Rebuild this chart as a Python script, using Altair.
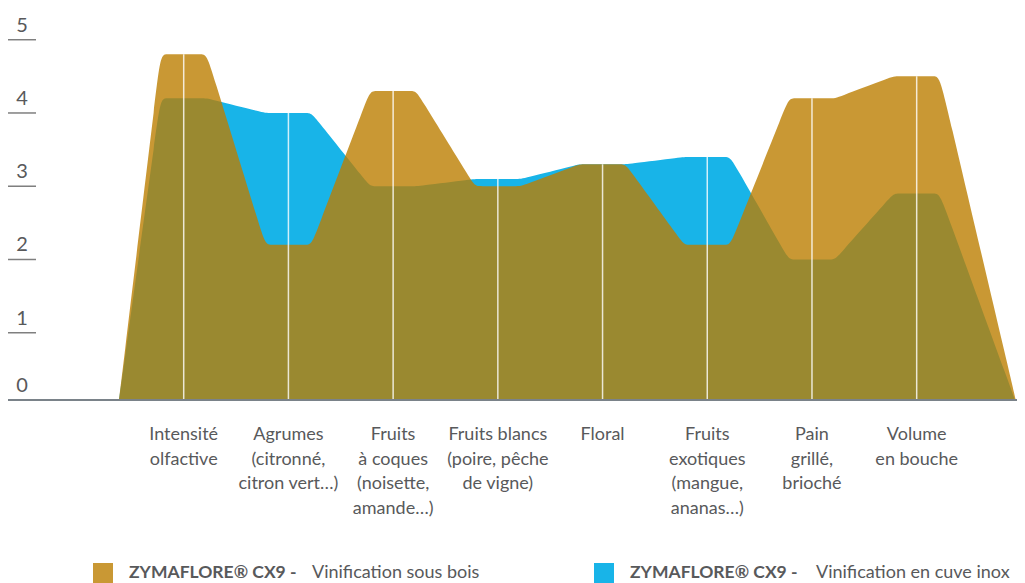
import altair as alt
import pandas as pd

# ---- data ----
categories = [
    "Intensité\nolfactive",
    "Agrumes\n(citronné,\ncitron vert…)",
    "Fruits\nà coques\n(noisette,\namande…)",
    "Fruits blancs\n(poire, pêche\nde vigne)",
    "Floral",
    "Fruits\nexotiques\n(mangue,\nananas…)",
    "Pain\ngrillé,\nbrioché",
    "Volume\nen bouche",
]
sous_bois = [4.8, 2.2, 4.3, 3.0, 3.3, 2.2, 4.2, 4.5]
cuve_inox = [4.2, 4.0, 3.0, 3.1, 3.3, 3.4, 2.0, 2.9]
y_ticks = [1, 2, 3, 4, 5]
series_names = ["sous bois", "cuve inox"]

# chart geometry
W, H = 1009, 392
BOTTOM = 183
X_START, X_END = -0.625, 7.96       # where the areas meet the zero line
PLATEAU = 0.22                      # half width of the flat top at each category
GOLD = "#BB7E01"
BLUE = "#18B4E8"
TEXT = "#58595B"
FONT = "Lato"

# ---- build the table the library needs ----
rows = []
for name, vals in zip(series_names, [sous_bois, cuve_inox]):
    pts = [(X_START, 0.0)]
    for i, v in enumerate(vals):
        pts += [(i - PLATEAU, v), (i + PLATEAU, v)]
    pts.append((X_END, 0.0))
    for (x, v) in pts:
        for _ in range(2):  # doubled control points -> polygon with rounded corners
            rows.append({"series": name, "x": x, "v": v})
area_df = pd.DataFrame(rows)

cat_df = pd.DataFrame({
    "i": list(range(len(categories))),
    "label": categories,
    "top": [max(a, b) for a, b in zip(sous_bois, cuve_inox)],
})
tick_df = pd.DataFrame({"t": y_ticks})

xscale = alt.Scale(domain=[-1.678, 7.958], nice=False, zero=False)
yscale = alt.Scale(domain=[0.082, 5.433], nice=False, zero=False)


def area(name, color, opacity):
    return alt.Chart(area_df).transform_filter(
        alt.datum.series == name
    ).mark_area(
        interpolate="basis", color=color, opacity=opacity, clip=True, orient="vertical"
    ).encode(
        x=alt.X("x:Q", scale=xscale, axis=None),
        y=alt.Y("v:Q", scale=yscale, axis=None, stack=None),
        y2=alt.value(H),
    )


blue_area = area("cuve inox", BLUE, 1.0)
gold_area = area("sous bois", GOLD, 0.8)

rules = alt.Chart(cat_df).mark_rule(color="white", strokeWidth=1.5, opacity=0.8).encode(
    x=alt.X("i:Q", scale=xscale, axis=None),
    y=alt.Y("top:Q", scale=yscale, axis=None),
    y2=alt.value(H),
)

baseline = alt.Chart(tick_df).mark_rule(color="#7A8289", strokeWidth=2).encode(
    x=alt.value(0), x2=alt.value(W), y=alt.value(H)
)

tick_lines = alt.Chart(tick_df).mark_rule(color="#7F7F7F", strokeWidth=1.5).encode(
    x=alt.value(0), x2=alt.value(28),
    y=alt.Y("t:Q", scale=yscale, axis=None),
)
tick_labels = alt.Chart(tick_df).mark_text(
    align="center", baseline="alphabetic", dy=-8, fontSize=20, font=FONT, color=TEXT
).encode(
    x=alt.value(14),
    y=alt.Y("t:Q", scale=yscale, axis=None),
    text=alt.Text("t:N"),
)
zero_label = alt.Chart(pd.DataFrame({"t": [0]})).mark_text(
    align="center", baseline="alphabetic", dy=-8, fontSize=20, font=FONT, color=TEXT
).encode(x=alt.value(14), y=alt.value(H), text=alt.Text("t:N"))

x_labels = alt.Chart(cat_df).mark_text(
    align="center", baseline="alphabetic", lineBreak="\n", lineHeight=24.5,
    fontSize=18, font=FONT, color=TEXT
).encode(
    x=alt.X("i:Q", scale=xscale, axis=None),
    y=alt.value(432),
    text="label:N",
)

legend_names = ["ZYMAFLORE® CX9 -", "ZYMAFLORE® CX9 -"]
legend_desc = ["Vinification sous bois", "Vinification en cuve inox"]
one = pd.DataFrame({"a": [0]})


def legend_item(x0, color, bold, desc, desc_x):
    sq = alt.Chart(one).mark_rect(color=color).encode(
        x=alt.value(x0), x2=alt.value(x0 + 20), y=alt.value(555), y2=alt.value(H + BOTTOM)
    )
    b = alt.Chart(one).mark_text(
        align="left", baseline="alphabetic", fontSize=17.5, fontWeight="bold",
        font=FONT, color=TEXT
    ).encode(x=alt.value(x0 + 36), y=alt.value(570), text=alt.value(bold))
    d = alt.Chart(one).mark_text(
        align="left", baseline="alphabetic", fontSize=18, font=FONT, color=TEXT
    ).encode(x=alt.value(desc_x), y=alt.value(570), text=alt.value(desc))
    return sq + b + d


leg1 = legend_item(85, "#C99834", legend_names[0], legend_desc[0], 304)
leg2 = legend_item(586, BLUE, legend_names[1], legend_desc[1], 808)

chart = alt.layer(
    blue_area, gold_area, rules, baseline, tick_lines, tick_labels, zero_label,
    x_labels, leg1, leg2
).properties(
    width=W, height=H,
    padding={"left": 0, "top": 0, "right": 0, "bottom": BOTTOM},
    autosize=alt.AutoSizeParams(type="none"),
).configure_view(stroke=None)

chart.save("out.html", embed_options={"renderer": "svg", "actions": False})
